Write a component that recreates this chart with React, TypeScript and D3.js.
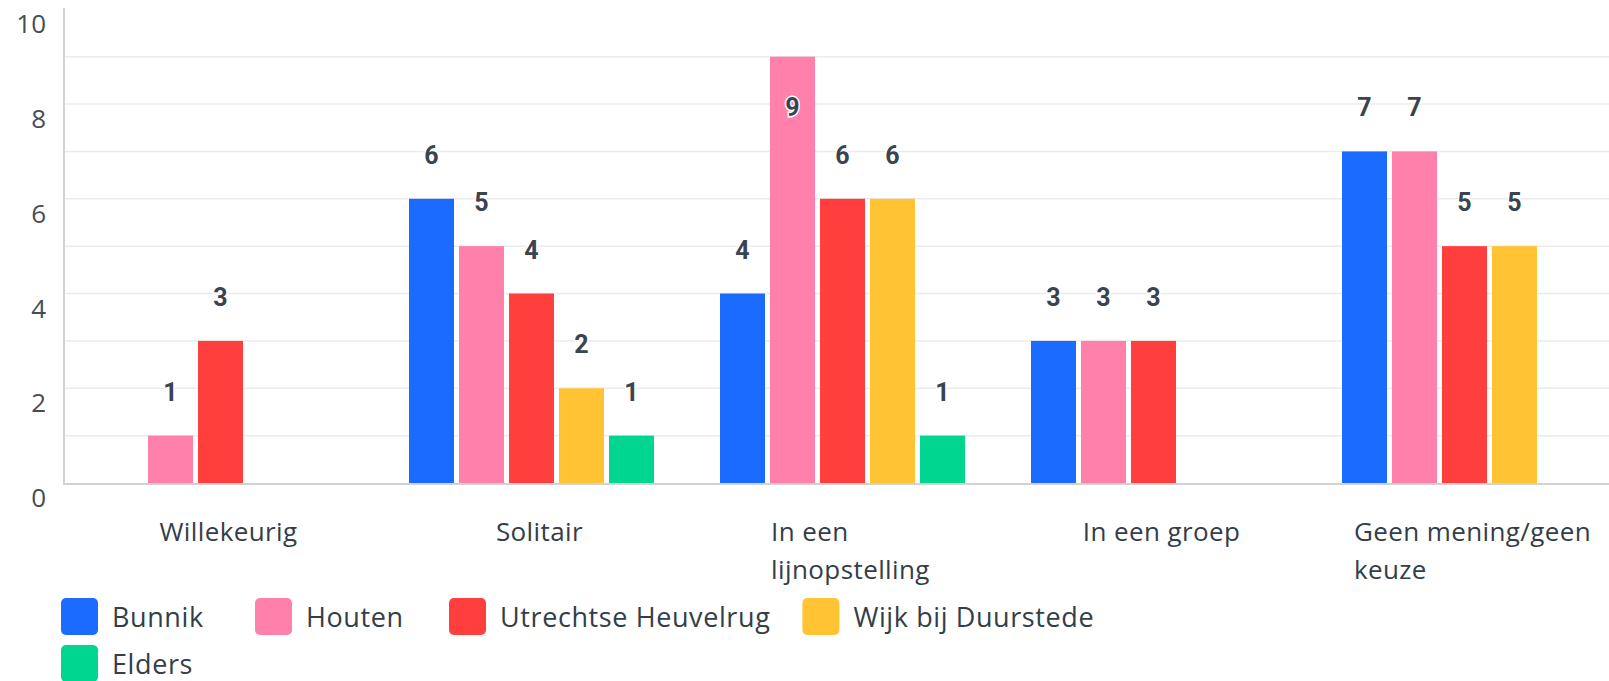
import React, { useRef, useEffect } from "react";
import * as d3 from "d3";

const categories = [
  "Willekeurig",
  "Solitair",
  "In een\nlijnopstelling",
  "In een groep",
  "Geen mening/geen\nkeuze",
];
const series = ["Bunnik", "Houten", "Utrechtse Heuvelrug", "Wijk bij Duurstede", "Elders"];
const colors = ["#1c6bff", "#ff80aa", "#ff3e3e", "#ffc333", "#00d68f"];

const bunnik = [0, 6, 4, 3, 7];
const houten = [1, 5, 9, 3, 7];
const utrechtseHeuvelrug = [3, 4, 6, 3, 5];
const wijkBijDuurstede = [0, 2, 6, 0, 5];
const elders = [0, 1, 1, 0, 0];
const values = [bunnik, houten, utrechtseHeuvelrug, wijkBijDuurstede, elders];

const yTicks = [0, 2, 4, 6, 8, 10];

const W = 1609;
const H = 681;
const FONT = "'Open Sans', sans-serif";
const TEXT = "#333e48";

export default function App() {
  const svgRef = useRef<SVGSVGElement>(null);

  useEffect(() => {
    const svg = d3.select(svgRef.current);
    svg.selectAll("*").remove();

    const x0 = d3.scaleBand<string>().domain(categories).range([65, 1620]).padding(0);
    const x1 = d3
      .scaleBand<string>()
      .domain(series)
      .range([30.5, 280.5])
      .paddingInner(0.1)
      .paddingOuter(0.05);
    const y = d3.scaleLinear().domain([0, 10]).range([483, 9.3]);

    // gridlines every unit
    svg
      .append("g")
      .selectAll("line")
      .data(d3.range(1, 10))
      .enter()
      .append("line")
      .attr("x1", 65)
      .attr("x2", W)
      .attr("y1", (d) => y(d))
      .attr("y2", (d) => y(d))
      .attr("stroke", "#ebebeb")
      .attr("stroke-width", 1.5);

    // y tick labels
    svg
      .append("g")
      .selectAll("text")
      .data(yTicks)
      .enter()
      .append("text")
      .attr("x", 46)
      .attr("y", (d) => y(d) + 24)
      .attr("text-anchor", "end")
      .attr("font-family", FONT)
      .attr("font-size", 26)
      .attr("fill", "#454d55")
      .text((d) => d);

    // bars
    const groups = svg
      .append("g")
      .selectAll("g")
      .data(categories)
      .enter()
      .append("g")
      .attr("transform", (d) => `translate(${x0(d)},0)`);

    groups
      .selectAll("rect")
      .data((c, ci) => series.map((s, si) => ({ s, si, v: values[si][ci] })))
      .enter()
      .filter((d) => d.v > 0)
      .append("rect")
      .attr("x", (d) => x1(d.s)!)
      .attr("width", x1.bandwidth())
      .attr("y", (d) => y(d.v))
      .attr("height", (d) => y(0) - y(d.v))
      .attr("fill", (d) => colors[d.si]);

    // axes lines
    svg
      .append("line")
      .attr("x1", 64)
      .attr("x2", 64)
      .attr("y1", 8)
      .attr("y2", 484)
      .attr("stroke", "#d2d2d2")
      .attr("stroke-width", 2);
    svg
      .append("line")
      .attr("x1", 63)
      .attr("x2", W)
      .attr("y1", 484)
      .attr("y2", 484)
      .attr("stroke", "#d2d2d2")
      .attr("stroke-width", 2);

    // value labels
    groups
      .selectAll("text.val")
      .data((c, ci) => series.map((s, si) => ({ s, si, v: values[si][ci] })))
      .enter()
      .filter((d) => d.v > 0)
      .append("text")
      .attr("class", "val")
      .attr("x", (d) => x1(d.s)! + x1.bandwidth() / 2)
      .attr("y", (d) => Math.max(y(d.v) - 35, y(7) - 35))
      .attr("text-anchor", "middle")
      .attr("font-family", "Roboto, sans-serif")
      .attr("font-weight", 700)
      .attr("font-size", 25)
      .attr("fill", "#3a4450")
      .attr("stroke", "#fff")
      .attr("stroke-width", 3)
      .attr("paint-order", "stroke")
      .text((d) => d.v);

    // category labels
    const labels = svg
      .append("g")
      .selectAll("text")
      .data(categories)
      .enter()
      .append("text")
      .attr("font-family", FONT)
      .attr("font-size", 26)
      .attr("letter-spacing", 0.4)
      .attr("fill", TEXT);
    labels.each(function (d) {
      const t = d3.select(this);
      d.split("\n").forEach((line, i) => {
        t.append("tspan").attr("y", 541 + i * 38).text(line);
      });
      let maxW = 0;
      t.selectAll<SVGTSpanElement, unknown>("tspan").each(function () {
        maxW = Math.max(maxW, this.getComputedTextLength());
      });
      const left = x0(d)! + x0.bandwidth() / 2 + 8 - maxW / 2;
      t.selectAll("tspan").attr("x", left);
    });

    // legend
    const legend = svg.append("g");
    let lx = 61;
    let ly = 598;
    series.forEach((s, i) => {
      if (i === 4) {
        lx = 61;
        ly += 47;
      }
      const item = legend.append("g").attr("transform", `translate(${lx},${ly})`);
      item
        .append("rect")
        .attr("width", 37)
        .attr("height", 37)
        .attr("rx", 5)
        .attr("fill", colors[i]);
      const txt = item
        .append("text")
        .attr("x", 51)
        .attr("y", 29)
        .attr("font-family", FONT)
        .attr("font-size", 27)
        .attr("letter-spacing", 0.6)
        .attr("fill", TEXT)
        .text(s);
      const tw = (txt.node() as SVGTextElement).getComputedTextLength();
      lx += Math.max(194, 51 + tw + 32);
    });
  }, []);

  return (
    <svg
      ref={svgRef}
      width={W}
      height={H}
      style={{ position: "absolute", left: 0, top: 0, background: "#fff" }}
    ></svg>
  );
}
